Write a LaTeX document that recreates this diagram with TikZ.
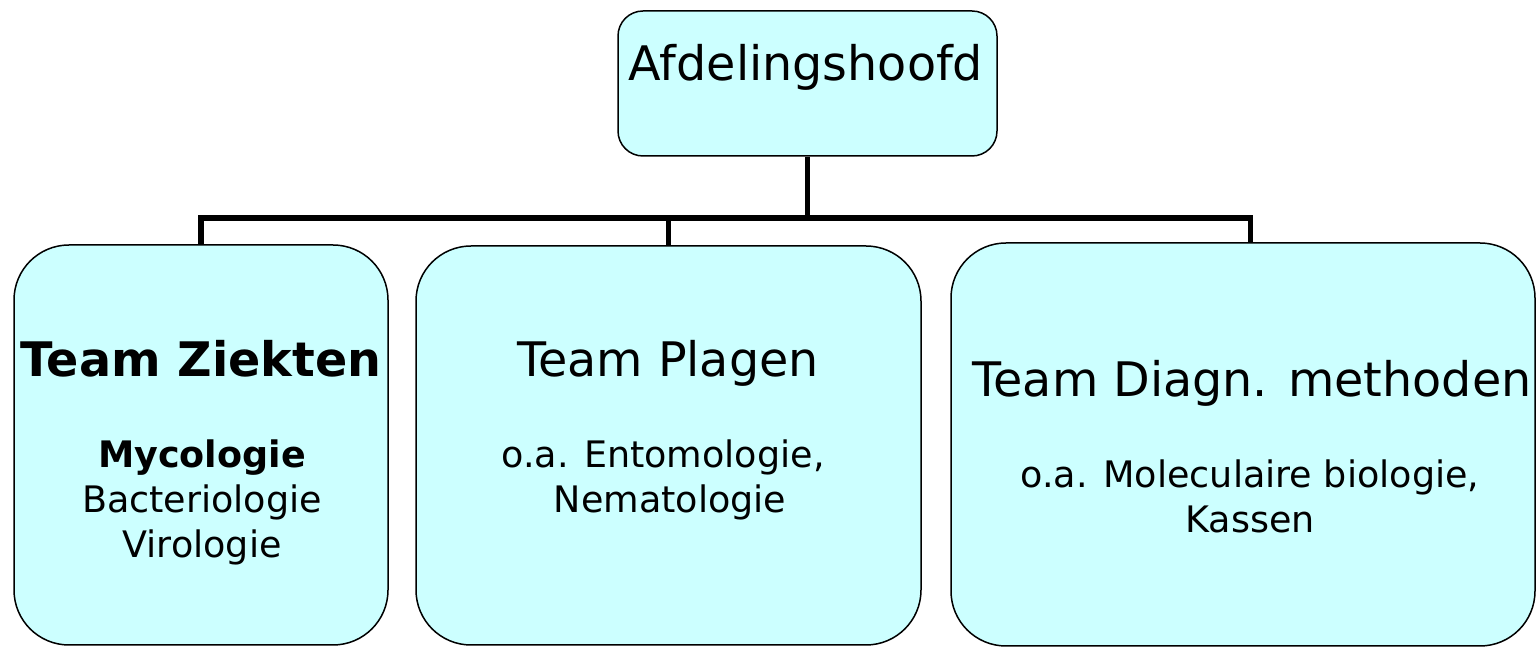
\documentclass[tikz,border=0pt]{standalone}
\usepackage{fontspec}
\setmainfont{DejaVu Sans}
\definecolor{boxfill}{RGB}{204,255,255}
\tikzset{
  unitbox/.style={draw=black, line width=1.5pt, fill=boxfill, rectangle, inner sep=0pt},
  teambox/.style={unitbox, rounded corners=55pt},
  headbox/.style={unitbox, rounded corners=25pt},
  conn/.style={draw=black, line width=5.5pt, line join=miter},
  headtxt/.style={anchor=base, inner sep=0pt, font=\fontsize{47.6}{56}\selectfont},
  subtxt/.style={anchor=base, inner sep=0pt, align=center, font=\fontsize{36.5}{45}\selectfont},
}
\begin{document}
\begin{tikzpicture}[x=1pt, y=1pt]
\useasboundingbox (0,0) rectangle (1537,647);
% boxes
\node[headbox, minimum width=379pt, minimum height=145pt] (head) at (807.5,563.5) {};
\node[teambox, minimum width=374pt, minimum height=400pt] (ziek) at (201,202) {};
\node[teambox, minimum width=505pt, minimum height=399pt] (plag) at (668.5,201.5) {};
\node[teambox, minimum width=584pt, minimum height=403pt] (diag) at (1243,202.5) {};
% connectors
\coordinate (hub) at (807.5,429);
\coordinate (diagdrop) at (1250.5,404);
\draw[conn] (head.south) -- (hub);
\draw[conn] (ziek.north) |- (hub) -| (diagdrop);
\draw[conn] (plag.north) -- (plag.north |- hub);
% texts (multi-line nodes: base = baseline of last line)
\node[headtxt] (t0) at (806,566) {Afdelingshoofd};
\node[headtxt, font=\fontsize{47.6}{56}\selectfont\bfseries] (t1) at (201,270) {Team Ziekten};
\node[subtxt] (s1) at (202,89) {\textbf{Mycologie}\\Bacteriologie\\Virologie};
\node[headtxt] (t2) at (668,270) {Team Plagen};
\node[subtxt] (s2) at (670,134) {o.a. Entomologie,\hspace*{14pt}\\Nematologie};
\node[headtxt] (t3) at (1252,250) {Team Diagn. methoden};
\node[subtxt] (s3) at (1250,114) {o.a. Moleculaire biologie,\\Kassen};
\end{tikzpicture}
\end{document}
